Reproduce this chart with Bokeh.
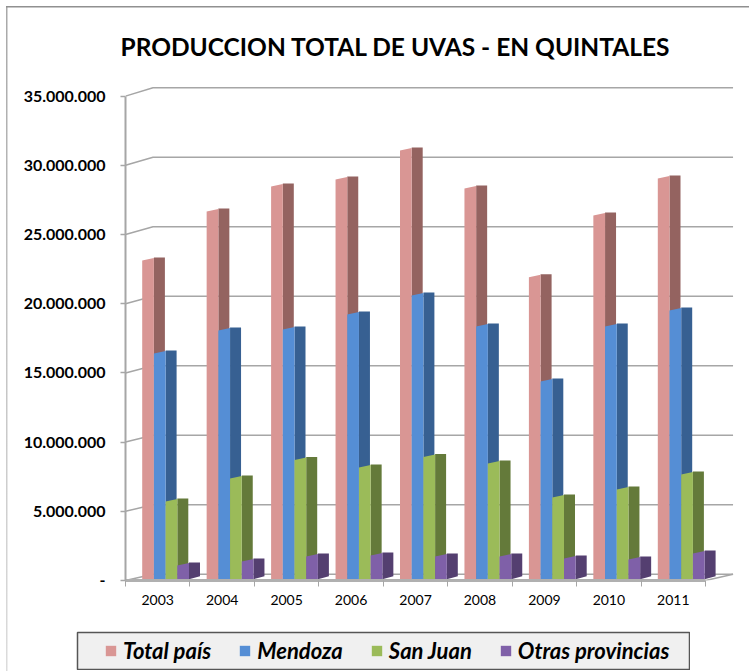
from bokeh.embed import file_html
from bokeh.resources import INLINE
from bokeh.plotting import figure
from bokeh.models import (FixedTicker, Legend, LegendItem, Range1d, InlineStyleSheet)

years = ["2003", "2004", "2005", "2006", "2007", "2008", "2009", "2010", "2011"]
total_pais = [23030000, 26570000, 28370000, 28880000, 30980000, 28230000, 21810000, 26280000, 28950000]
mendoza = [16310000, 17970000, 18040000, 19130000, 20500000, 18260000, 14290000, 18260000, 19420000]
san_juan = [5610000, 7280000, 8610000, 8070000, 8830000, 8360000, 5900000, 6480000, 7570000]
otras = [990000, 1280000, 1640000, 1710000, 1640000, 1640000, 1500000, 1420000, 1860000]
y_ticks = [0, 5000000, 10000000, 15000000, 20000000, 25000000, 30000000, 35000000]
y_labels = ["-", "5.000.000", "10.000.000", "15.000.000", "20.000.000", "25.000.000", "30.000.000", "35.000.000"]
series = [
    ("Total país", total_pais, "#d99694", "#946360"),
    ("Mendoza", mendoza, "#558ed5", "#376092"),
    ("San Juan", san_juan, "#9bbb59", "#647a3a"),
    ("Otras provincias", otras, "#7f60a8", "#543f70"),
]

PX_CAT = 64.45          # pixels per category
PX_M = 13.84e-6         # pixels per unit of value
px_x = lambda n: n / PX_CAT
px_v = lambda n: n / PX_M

p = figure(width=749, height=671, output_backend="svg", toolbar_location=None,
           x_range=Range1d(0, 624 / PX_CAT), y_range=Range1d(0, 510 / PX_M),
           min_border_left=125, min_border_right=0, min_border_top=70, min_border_bottom=91,
           outline_line_color=None, background_fill_color="white", border_fill_color="white")
p.styles = {"position": "absolute", "left": "0px", "top": "0px"}
p.stylesheets = [InlineStyleSheet(css="""
:host::after { content: ""; position: absolute; left: 6px; top: 6px; width: 743px; height: 665px;
  pointer-events: none;
  background-image: linear-gradient(#909090, #909090), linear-gradient(#a8a8a8, #dcdcdc);
  background-repeat: no-repeat; background-size: 100% 1.5px, 1.5px 100%; background-position: 0 0, 0 0; }
""")]
p.grid.visible = False

# walls and floor
DEPTH = px_x(27.5)
def back(v):
    return v * 1.0045 + px_v(6.2)
n = len(years)
gx = [[0, DEPTH, n + DEPTH] for _ in y_ticks]
gy = [[v, back(v), back(v)] for v in y_ticks]
p.multi_line(gx, gy, line_color="#a6a6a6", line_width=1.5)
p.line([n, n + DEPTH], [0, back(0)], line_color="#a6a6a6", line_width=1.5)

# bars
OFF, BW = px_x(16.7), px_x(11.7)
SD = px_x(11)
B = px_v(1.3)
for s, (name, vals, c, dark) in enumerate(series):
    fx, fy, sx, sy = [], [], [], []
    for i, v in enumerate(vals):
        x0 = i + OFF + s * BW
        x1 = x0 + BW
        x2 = x1 + SD
        t = v + B
        fx.append([x0, x1, x1, x0])
        fy.append([B, B, t + px_v(2.5), t])
        sx.append([x1, x2, x2, x1])
        sy.append([B, B + px_v(3), t + px_v(3), t + px_v(3)])
    p.patches(sx, sy, fill_color=dark, line_color=None)
    p.patches(fx, fy, fill_color=c, line_color=None)

# axes
ya = p.yaxis[0]
ya.ticker = FixedTicker(ticks=y_ticks)
ya.major_label_overrides = dict(zip(y_ticks, y_labels))
ya.axis_line_color = "#a6a6a6"
ya.axis_line_width = 2
ya.major_tick_line_color = "#a6a6a6"
ya.major_tick_line_width = 1.5
ya.major_tick_in = 0
ya.major_tick_out = 5
ya.minor_tick_line_color = None
ya.major_label_standoff = 15
ya.major_label_text_font = "Lato"
ya.major_label_text_font_style = "bold"
ya.major_label_text_font_size = "16px"
ya.major_label_text_color = "#000000"
ya.bounds = (0, 35000000)

xa = p.xaxis[0]
centers = [i + 0.5 for i in range(n)]
xa.ticker = FixedTicker(ticks=centers, minor_ticks=list(range(n + 1)))
xa.major_label_overrides = dict(zip(centers, years))
xa.axis_line_color = "#b0b0b0"
xa.axis_line_width = 3
xa.major_tick_line_color = None
xa.minor_tick_line_color = "#a6a6a6"
xa.minor_tick_in = 0
xa.minor_tick_out = 6
xa.major_tick_in = 0
xa.major_tick_out = 0
xa.major_label_standoff = 8
xa.major_label_text_font = "Lato"
xa.major_label_text_font_size = "14px"
xa.major_label_text_color = "#000000"
xa.bounds = (0, n)

# title
p.title.text = "PRODUCCION TOTAL DE UVAS - EN QUINTALES"
p.title.text_font = "Lato"
p.title.text_font_style = "bold"
p.title.text_font_size = "24.5px"
p.title.text_color = "#000000"
p.title.align = "left"
p.title.offset = -5
p.title.standoff = 19

# legend, in its own small box
lg = figure(width=614, height=39, output_backend="svg", toolbar_location=None,
            x_range=Range1d(0, 1), y_range=Range1d(0, 1),
            x_axis_location=None, y_axis_location=None,
            min_border=1, background_fill_color="#f0f0f0", border_fill_color=None,
            outline_line_color="#555555", outline_line_width=1.5)
lg.styles = {"position": "absolute", "left": "76px", "top": "631px"}
lg.grid.visible = False
items = []
for name, vals, c, dark in series:
    items.append(LegendItem(label=name, renderers=[lg.patches([[]], [[]], fill_color=c, line_color=None)]))
legend = Legend(items=items, location=(27, 5), orientation="horizontal",
                glyph_width=13, glyph_height=13, label_standoff=6, spacing=27,
                padding=0, margin=0, background_fill_alpha=0, border_line_color=None,
                label_text_font="Lato", label_text_font_style="bold italic",
                label_text_font_size="22px", label_text_color="#000000")
lg.add_layout(legend, "center")

open("out.html", "w").write(file_html((p, lg), INLINE))
